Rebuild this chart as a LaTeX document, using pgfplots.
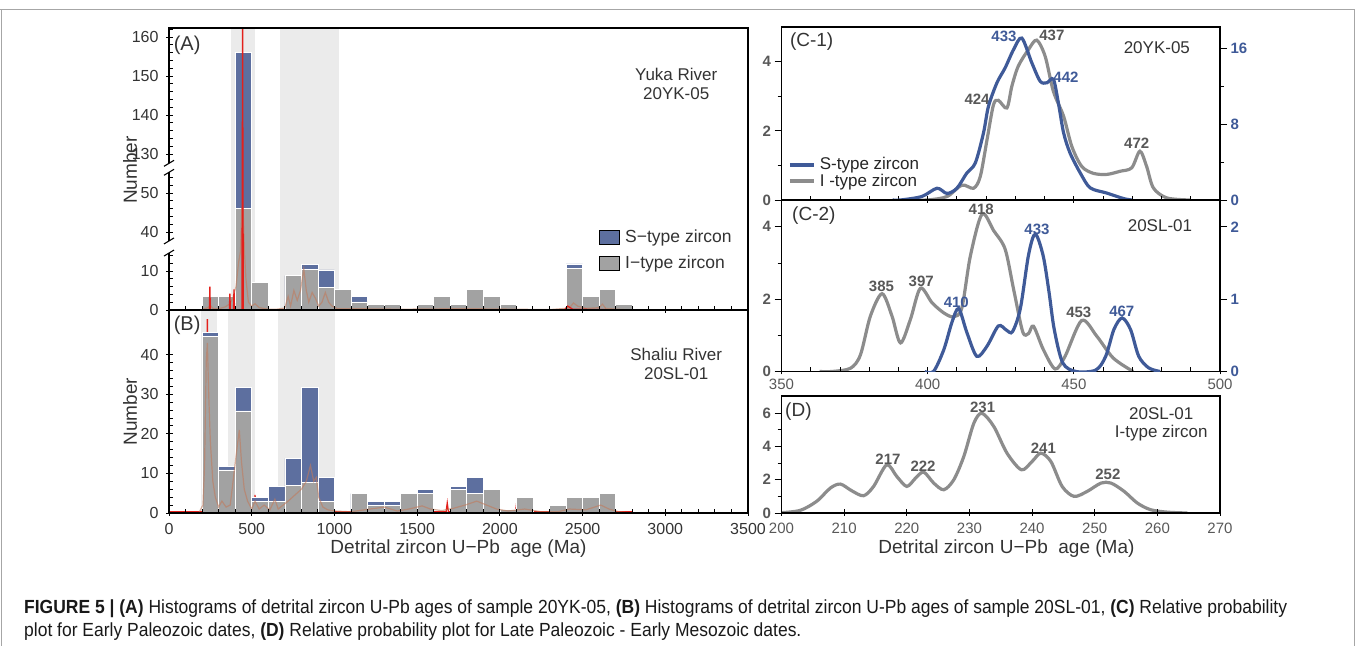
\documentclass[border=0pt]{standalone}
\usepackage{fontspec}
\setmainfont{Liberation Sans}
\usepackage{graphicx}
\usepackage{pgfplots}
\pgfplotsset{compat=1.18}
\usepackage{pgfplotstable}

\definecolor{sblue}{HTML}{5D6F9F}
\definecolor{igray}{HTML}{A2A2A2}
\definecolor{band}{HTML}{EBEBEB}
\definecolor{scurve}{HTML}{3F5A98}
\definecolor{icurve}{HTML}{8C8C8C}
\definecolor{kde}{HTML}{C07A5C}
\definecolor{redl}{HTML}{E3201B}
\definecolor{txt}{HTML}{333333}
\definecolor{plab}{HTML}{585858}
\newcommand{\fs}[1]{\fontsize{#1bp}{#1bp}\selectfont}

\pgfplotstableread{
x I T
250 3.4 3.4
350 3.4 3.4
450 46 156
550 7.0 7.0
750 8.8 8.8
850 10.5 11.6
950 5.8 10.3
1050 5.2 5.2
1150 2.1 3.4
1250 1.5 1.5
1350 1.5 1.5
1550 1.5 1.5
1650 3.4 3.4
1750 1.5 1.5
1850 5.2 5.2
1950 3.4 3.4
2050 1.5 1.5
2450 10.7 11.8
2550 3.4 3.4
2650 5.2 5.2
2750 1.5 1.5
}\histA

\pgfplotstableread{
x I T
250 44.7 45.7
350 10.9 11.7
450 25.8 31.7
550 3.0 4.0
650 3.0 6.8
750 7.0 13.8
850 7.8 31.7
950 3.0 8.9
1150 4.9 4.9
1250 2.0 3.0
1350 2.0 3.0
1450 4.9 4.9
1550 4.9 6.0
1750 6.0 6.8
1850 4.9 8.9
1950 6.0 6.0
2050 1.0 1.0
2150 4.0 4.0
2350 2.0 2.0
2450 4.0 4.0
2550 4.0 4.0
2650 4.9 4.9
}\histB

\pgfplotsset{
  base/.style={scale only axis, anchor=south west, axis on top,
    axis line style={line width=1.4bp, black},
    tick style={line width=0.9bp, black},
    major tick length=7bp, minor tick length=4bp, tick align=outside,
    tick label style={font=\fs{16}, text=txt},
    /pgf/number format/assume math mode=true,
    /pgf/number format/1000 sep={}},
}
\tikzset{
  plabel/.style={font=\bfseries\fs{15}, text=plab, inner sep=0pt},
  blabel/.style={font=\bfseries\fs{15}, text=scurve, inner sep=0pt},
}

\begin{document}
\begin{tikzpicture}
\useasboundingbox (0,0) rectangle (1355bp,646bp);
\draw[color=gray!70, line width=1bp] (0,636bp) -- (1355bp,636bp);
\draw[color=gray!70, line width=1bp] (1bp,0) -- (1bp,636bp);
\draw[color=gray!70, line width=1bp] (1354bp,0) -- (1354bp,636bp);

% ---------------- Panel A ----------------
\begin{axis}[base,
  at={(169bp,336bp)}, width=579bp, height=282bp,
  xmin=0, xmax=3500, ymin=0, ymax=72.3,
  xtick pos=bottom, ytick pos=left,
  xtick={0,500,...,3500}, xticklabels={}, minor x tick num=4,
  ytick={0,10,20,30,40,50,60,70}, yticklabels={0,10,40,50,130,140,150,160},
  minor ytick={2,4,6,8,12,14,22,24,26,28,32,34,42,44,46,48,52,54,56,58,62,64,66,68,72},
  x tick style={yshift=4bp}, y tick style={xshift=4bp},
  declare function={brk(\v)=(\v<15) ? \v : ((\v<35) ? 15 : ((\v<55) ? \v-20 : ((\v<125) ? 35 : \v-90)));},
  ylabel={Number}, ylabel style={at={(axis description cs:-0.067,0.496)}, anchor=center, font=\fs{19}, text=txt},
  legend style={at={(axis description cs:0.742,0.292)}, anchor=north west, draw=none, fill=none,
    font=\fs{17.5}, text=txt, row sep=8bp, inner sep=0pt,
    /tikz/every odd column/.style={column sep=4bp}},
  legend cell align=left,
  legend image code/.code={\fill[#1] (0bp,-7bp) rectangle (20bp,7bp);},
]
\addplot[fill=band, draw=none, forget plot] coordinates {(372,72.3) (520,72.3)} \closedcycle;
\addplot[fill=band, draw=none, forget plot] coordinates {(670,72.3) (1025,72.3)} \closedcycle;
\addplot[ybar, bar width=100, bar shift=0pt, fill=sblue, draw=white, line width=0.6bp, forget plot]
  table[x=x, y expr={brk(\thisrow{T})}] {\histA};
\addplot[ybar, bar width=100, bar shift=0pt, fill=igray, draw=white, line width=0.6bp, forget plot]
  table[x=x, y expr={brk(\thisrow{I})}] {\histA};
\addplot[kde, opacity=0.6, line width=1.2bp, forget plot] table[x=x, y expr={brk(\thisrow{y})}] {
x y
150 0
200 0.1
235 0.6
250 1.2
265 0.4
300 0.3
340 0.8
365 1.5
385 3
405 6
420 12
432 30
440 46
448 46
456 20
465 8
480 2
500 1
520 1.6
545 0.6
600 0.2
650 0.2
700 0.5
720 3.5
735 1
755 5
775 2.5
795 5
815 10.5
830 5
845 2
865 4.5
885 3
905 1
925 2
945 4.5
965 2
985 1
1020 0.3
1200 0.3
1400 0.2
1650 0.3
1900 0.3
2300 0.1
2420 0.5
2445 1.8
2470 1.0
2520 0.4
2600 0.6
2620 1.5
2640 0.4
2750 0.1
2800 0
};
\addplot[redl, line width=1.3bp, forget plot] table[x=x, y expr={brk(\thisrow{y})}] {
x y
150 0
244 0
247 6
250 0
365 0
368 4.2
371 0
390 0
393 5.3
396 0
441 0
445 162
449 0
2390 0
2410 1
2440 0.2
2800 0
};
\addlegendimage{fill=sblue}
\addlegendentry{S−type zircon}
\addlegendimage{fill=igray}
\addlegendentry{I−type zircon}
\node[anchor=west, font=\fs{20}, text=txt, inner sep=0pt] at (rel axis cs:0.008,0.94) {(A)};
\node[align=center, font=\fs{17}, text=txt, inner sep=0pt] at (rel axis cs:0.876,0.80) {Yuka River\\[2bp]20YK-05};
\coordinate (brAlo) at (axis cs:0,14.6);
\coordinate (brAhi) at (axis cs:0,17.7);
\coordinate (brBlo) at (axis cs:0,35.3);
\coordinate (brBhi) at (axis cs:0,37.6);
\end{axis}
\fill[white] ([xshift=-2.5bp]brAlo) rectangle ([xshift=2.5bp]brAhi);
\fill[white] ([xshift=-2.5bp]brBlo) rectangle ([xshift=2.5bp]brBhi);
\foreach \c in {brAlo,brAhi,brBlo,brBhi}{
  \draw[line width=1.1bp] ([xshift=-5bp,yshift=-3bp]\c) -- ([xshift=5bp,yshift=3bp]\c);
}

% ---------------- Panel B ----------------
\begin{axis}[base,
  at={(169bp,133bp)}, width=579bp, height=203bp,
  xmin=0, xmax=3500, ymin=0, ymax=51.3,
  xtick pos=bottom, ytick pos=left,
  xtick={0,500,...,3500}, minor x tick num=4,
  ytick={0,10,...,40}, minor y tick num=4,
  x tick style={yshift=4bp}, y tick style={xshift=4bp},
  ylabel={Number}, ylabel style={at={(axis description cs:-0.067,0.5)}, anchor=center, font=\fs{19}, text=txt},
  xlabel={Detrital zircon U−Pb~ age (Ma)},
  xlabel style={at={(axis description cs:0.5,-0.177)}, anchor=center, font=\fs{19}, text=txt},
]
\addplot[fill=band, draw=none, forget plot] coordinates {(195,51.3) (292,51.3)} \closedcycle;
\addplot[fill=band, draw=none, forget plot] coordinates {(356,51.3) (517,51.3)} \closedcycle;
\addplot[fill=band, draw=none, forget plot] coordinates {(661,51.3) (1002,51.3)} \closedcycle;
\addplot[redl, line width=1.3bp, forget plot] coordinates {
(0,0.3) (225,0.3) (232,49) (238,0.3) (515,0.3) (520,4.6) (525,0.3)
(1675,0.3) (1682,2.5) (1689,0.3) (2095,0.3) (2100,2.0) (2105,0.3) (2800,0.3)};
\addplot[ybar, bar width=100, bar shift=0pt, fill=sblue, draw=white, line width=0.6bp, forget plot]
  table[x=x, y=T] {\histB};
\addplot[ybar, bar width=100, bar shift=0pt, fill=igray, draw=white, line width=0.6bp, forget plot]
  table[x=x, y=I] {\histB};
\addplot[kde, opacity=0.6, line width=1.2bp, forget plot] coordinates {
(180,0) (205,2) (215,12) (225,38) (232,43) (240,30) (250,18) (265,8) (280,4) (300,1.5)
(320,3) (345,1.5) (370,2) (390,9) (410,16) (425,21) (438,13) (455,6) (475,3) (500,1)
(520,3) (545,1) (575,2) (610,0.8) (640,3.5) (660,1) (690,2) (720,3) (760,4.5) (800,6)
(830,8) (855,12) (875,8) (890,9) (905,4) (930,1.5) (960,0.8) (1000,0.5) (1100,0.3)
(1180,0.8) (1250,1.2) (1300,1.5) (1380,0.5) (1450,1.0) (1530,1.8) (1580,1) (1650,0.6)
(1720,1.2) (1790,2) (1860,3) (1920,2) (1980,1) (2050,0.5) (2150,1) (2250,0.3) (2350,0.3)
(2420,1) (2520,0.8) (2610,2) (2660,1) (2720,0.3) (2800,0)};
\node[anchor=west, font=\fs{20}, text=txt, inner sep=0pt] at (rel axis cs:0.008,0.926) {(B)};
\node[align=center, font=\fs{17}, text=txt, inner sep=0pt] at (rel axis cs:0.876,0.734) {Shaliu River\\[2bp]20SL-01};
\end{axis}

% ---------------- Panel C-1 ----------------
\begin{axis}[base,
  at={(781.5bp,446bp)}, width=438.5bp, height=173bp,
  xmin=350, xmax=500, ymin=0, ymax=5,
  xtick pos=bottom, ytick pos=left,
  xtick={350,400,450,500}, xticklabels={}, minor x tick num=4,
  ytick={0,2,4}, minor ytick={1,3},
  x tick style={yshift=4bp},
  yticklabel style={font=\bfseries\fs{15}, text=plab},
  legend style={at={(axis description cs:0.014,0.055)}, anchor=south west, draw=none, fill=none,
    font=\fs{17}, text=black!85, row sep=-1bp, inner sep=0pt,
    /tikz/every odd column/.style={column sep=2bp}},
  legend cell align=left,
  legend image code/.code={\draw[#1] (0bp,0bp) -- (24bp,0bp);},
]
\addlegendimage{scurve, line width=4bp}
\addlegendentry{S-type zircon}
\addlegendimage{icurve, line width=4bp}
\addlegendentry{I -type zircon}
\addplot[icurve, line width=3.2bp, smooth, tension=0.5, forget plot] coordinates {
(392,0) (399.8,0) (406.6,0.1) (411.7,0.43) (415.7,0.34) (418,0.68) (420.3,1.74) (422.5,2.75)
(424.2,2.88) (427.1,2.66) (428.8,3.29) (431,3.87) (434.5,4.35) (437.3,4.62) (440.2,4.15)
(443,3.14) (446.5,2.42) (449.3,1.55) (452.7,0.97) (456.7,0.77) (461.3,0.74) (465.8,0.83)
(469.8,0.93) (472.6,1.41) (474.9,0.97) (477.2,0.35) (481.8,0.06) (489.7,0)};
\node[blabel] at (axis cs:426.1,4.73) {433};
\node[plabel] at (axis cs:442.5,4.75) {437};
\node[plabel] at (axis cs:416.9,2.9) {424};
\node[blabel] at (axis cs:447.3,3.54) {442};
\node[plabel] at (axis cs:471.5,1.65) {472};
\node[anchor=west, font=\fs{19}, text=txt, inner sep=0pt] at (rel axis cs:0.019,0.913) {(C-1)};
\node[font=\fs{17}, text=txt, inner sep=0pt] at (rel axis cs:0.856,0.879) {20YK-05};
\end{axis}
\begin{axis}[base,
  at={(781.5bp,446bp)}, width=438.5bp, height=173bp,
  xmin=350, xmax=500, ymin=0, ymax=18.25,
  axis x line=none, axis y line*=right, ytick pos=right,
  ytick={0,8,16}, minor ytick={4,12},
  yticklabel style={font=\bfseries\fs{15}, text=scurve},
]
\addplot[scurve, line width=3.2bp, smooth, tension=0.5] coordinates {
(388,0) (390.7,0) (398,0.37) (403.2,1.24) (406.6,0.69) (410,1.24) (413.4,2.85) (416.3,3.91)
(419.1,7.08) (420.8,9.89) (423.7,12.37) (426.5,13.94) (429.4,15.88) (432.2,17.08) (435.6,14.49)
(438.5,12.52) (440.8,12.37) (443,12.74) (444.7,10.26) (446.5,7.08) (448.7,4.96) (452.2,2.85)
(455.6,1.28) (461.3,0.73) (467,0.15) (469.8,0)};
\end{axis}

% ---------------- Panel C-2 ----------------
\begin{axis}[base,
  at={(781.5bp,274.5bp)}, width=438.5bp, height=171.5bp,
  xmin=350, xmax=500, ymin=0, ymax=4.74,
  xtick pos=bottom, ytick pos=left,
  xtick={350,400,450,500}, minor x tick num=4,
  ytick={0,2,4}, minor ytick={1,3},
  x tick style={yshift=4bp},
  xticklabel style={font=\fs{15}, text=plab, yshift=3bp},
  yticklabel style={font=\bfseries\fs{15}, text=plab},
]
\addplot[icurve, line width=3.2bp, smooth, tension=0.5] coordinates {
(363,0) (367.3,0) (373.6,0.09) (377,0.46) (380.4,1.53) (384.4,2.15) (387.8,1.53) (390.7,0.79)
(394.1,1.44) (397.5,2.3) (401.5,1.9) (405.5,1.62) (408.9,1.51) (411.7,1.76) (414.6,3.19)
(418.6,4.35) (422.6,3.89) (426.5,3.38) (429.4,2.27) (432.5,1.1) (434.5,1.05) (436.2,1.25)
(439.6,0.6) (443.6,0.07) (447,0.42) (452.7,1.41) (457.9,0.97) (463.5,0.37) (470.3,0)};
\node[plabel] at (axis cs:418.3,4.49) {418};
\node[plabel] at (axis cs:384.2,2.35) {385};
\node[plabel] at (axis cs:397.8,2.49) {397};
\node[blabel] at (axis cs:409.8,1.91) {410};
\node[blabel] at (axis cs:437.4,3.94) {433};
\node[plabel] at (axis cs:451.7,1.63) {453};
\node[blabel] at (axis cs:466.4,1.66) {467};
\node[anchor=west, font=\fs{19}, text=txt, inner sep=0pt] at (rel axis cs:0.024,0.907) {(C-2)};
\node[font=\fs{17}, text=txt, inner sep=0pt] at (rel axis cs:0.863,0.848) {20SL-01};
\end{axis}
\begin{axis}[base,
  at={(781.5bp,274.5bp)}, width=438.5bp, height=171.5bp,
  xmin=350, xmax=500, ymin=0, ymax=2.37,
  axis x line=none, axis y line*=right, ytick pos=right,
  ytick={0,1,2},
  yticklabel style={font=\bfseries\fs{15}, text=scurve},
]
\addplot[scurve, line width=3.2bp, smooth, tension=0.5] coordinates {
(399,0) (402,0) (405.5,0.3) (408.3,0.68) (410.6,0.87) (413.4,0.54) (416.8,0.21) (420.3,0.35)
(424.2,0.63) (427,0.57) (429,0.55) (431.7,0.87) (434.5,1.61) (436.8,1.9) (439.5,1.6)
(441.5,1.1) (443.3,0.58) (446.2,0.12) (450.7,0) (457.5,0.02) (460.9,0.21) (463.7,0.58)
(466.5,0.74) (469.4,0.58) (472.2,0.21) (475.6,0.05) (479.5,0)};
\end{axis}

% ---------------- Panel D ----------------
\begin{axis}[base,
  at={(781.5bp,133bp)}, width=438.5bp, height=117bp,
  xmin=200, xmax=270, ymin=0, ymax=7.04,
  xtick pos=bottom, ytick pos=left,
  xtick={200,210,...,270},
  ytick={0,2,4,6}, minor ytick={1,3,5},
  x tick style={yshift=4bp},
  xticklabel style={font=\fs{15}, text=plab},
  yticklabel style={font=\bfseries\fs{15}, text=plab},
  xlabel={Detrital zircon U−Pb~ age (Ma)},
  xlabel style={at={(axis description cs:0.513,-0.308)}, anchor=center, font=\fs{19}, text=txt},
]
\addplot[icurve, line width=3.2bp, smooth, tension=0.5] coordinates {
(200,0.02) (203,0.16) (205.6,0.7) (207.8,1.5) (209.4,1.74) (211.2,1.34) (213.1,1.04) (214.7,1.6)
(216.8,2.9) (218.4,2.2) (220,1.6) (221.4,2.1) (222.7,2.46) (224.3,1.8) (225.9,1.4) (227.5,2.0)
(229.1,3.4) (230.7,5.4) (232,6.0) (233.9,5.2) (236,3.6) (238.3,2.6) (240,3.1) (241.4,3.6)
(243,3.1) (244.8,1.6) (246.7,1.0) (248.8,1.3) (251,1.8) (252.6,1.8) (254.7,1.3) (256.8,0.6)
(258.9,0.2) (261.6,0.05) (264.8,0)};
\node[plabel] at (axis cs:217.0,3.26) {217};
\node[plabel] at (axis cs:222.6,2.84) {222};
\node[plabel] at (axis cs:232.1,6.38) {231};
\node[plabel] at (axis cs:241.8,3.92) {241};
\node[plabel] at (axis cs:252.1,2.30) {252};
\node[anchor=west, font=\fs{19}, text=txt, inner sep=0pt] at (rel axis cs:0.008,0.863) {(D)};
\node[align=center, font=\fs{17}, text=txt, inner sep=0pt] at (rel axis cs:0.866,0.76) {20SL-01\\[1bp]I-type zircon};
\end{axis}

% ---------------- Caption ----------------
\node[anchor=base west, inner sep=0pt, text=black!90] at (24bp,33bp)
 {\scalebox{0.92}[1]{\fs{19}\textbf{FIGURE 5 | (A)} Histograms of detrital zircon U-Pb ages of sample 20YK-05, \textbf{(B)} Histograms of detrital zircon U-Pb ages of sample 20SL-01, \textbf{(C)} Relative probability}};
\node[anchor=base west, inner sep=0pt, text=black!90] at (24bp,10bp)
 {\scalebox{0.92}[1]{\fs{19}plot for Early Paleozoic dates, \textbf{(D)} Relative probability plot for Late Paleozoic - Early Mesozoic dates.}};
\end{tikzpicture}
\end{document}
